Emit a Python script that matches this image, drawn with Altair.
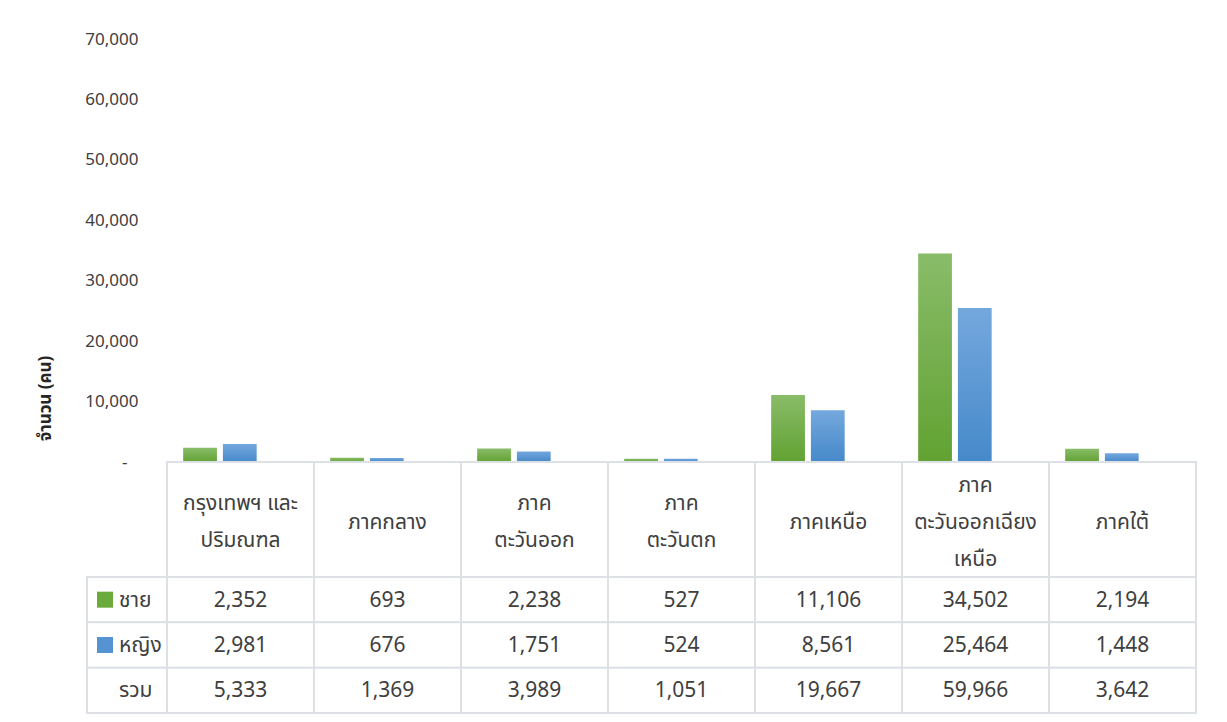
import altair as alt
import pandas as pd

# ---------------- data ----------------
regions = ["กรุงเทพฯ และปริมณฑล", "ภาคกลาง", "ภาคตะวันออก", "ภาคตะวันตก",
           "ภาคเหนือ", "ภาคตะวันออกเฉียงเหนือ", "ภาคใต้"]
header_labels = ["กรุงเทพฯ และ\nปริมณฑล", "ภาคกลาง", "ภาค\nตะวันออก", "ภาค\nตะวันตก",
                 "ภาคเหนือ", "ภาค\nตะวันออกเฉียง\nเหนือ", "ภาคใต้"]
male = [2352, 693, 2238, 527, 11106, 34502, 2194]
female = [2981, 676, 1751, 524, 8561, 25464, 1448]
total = [5333, 1369, 3989, 1051, 19667, 59966, 3642]
series = ["ชาย", "หญิง"]
row_names = ["ชาย", "หญิง", "รวม"]
y_ticks = [0, 10000, 20000, 30000, 40000, 50000, 60000, 70000]
y_title = "จำนวน (คน)"

# ---------------- styles ----------------
FONT = "Noto Sans Thai, Leelawadee UI, Tahoma, Noto Sans, sans-serif"
TEXT = "#404040"
GRID = "#dde1e6"
GREEN = "#6aab3c"
BLUE = "#5693d3"

bars_df = pd.DataFrame({
    "region": regions * 2,
    "sex": [series[0]] * len(regions) + [series[1]] * len(regions),
    "value": male + female,
})
table_df = pd.DataFrame({
    "region": regions * 3,
    "row": [r for r in row_names for _ in regions],
    "value": male + female + total,
})
header_df = pd.DataFrame({"region": regions, "label": header_labels})
rows_df = pd.DataFrame({"row": row_names})

W = 1029
H_BARS = 423
H_HEAD = 115
H_ROWS = 136
W_LEFT = 80
LINE_H = 37
FS_TAB = 21

# ---------------- bars ----------------
x_bars = alt.X("region:N", axis=None,
               scale=alt.Scale(domain=regions, paddingInner=0.5, paddingOuter=0.25, align=0.22))
x_off = alt.XOffset("sex:N", scale=alt.Scale(domain=series, paddingInner=0.15, paddingOuter=0))
y_bars = alt.Y("value:Q",
               scale=alt.Scale(domain=[0, 70000], nice=False),
               axis=alt.Axis(values=y_ticks,
                             labelExpr="datum.value == 0 ? '-' : format(datum.value, ',')",
                             grid=False, domain=False, ticks=False, tickSize=0,
                             labelPadding={"condition": {"test": "datum.value === 0", "value": 40},
                                           "value": 29},
                             labelFontSize=17, labelColor=TEXT, labelFont=FONT,
                             title=y_title, titleFont=FONT, titleFontSize=17, titleFontWeight="bold",
                             titleColor="#262626", titleX=-122, titleY=359, titleAngle=270,
                             titleAlign="center", titleBaseline="middle"))

green_grad = alt.LinearGradient(gradient="linear",
                                stops=[alt.GradientStop(offset=0, color="#89bc69"),
                                       alt.GradientStop(offset=1, color="#62a232")],
                                x1=0, x2=0, y1=0, y2=1)
blue_grad = alt.LinearGradient(gradient="linear",
                               stops=[alt.GradientStop(offset=0, color="#74a8dd"),
                                      alt.GradientStop(offset=1, color="#4689ca")],
                               x1=0, x2=0, y1=0, y2=1)

bars_m = alt.Chart(bars_df).transform_filter(alt.datum.sex == series[0]).mark_bar(
    color=green_grad).encode(x=x_bars, xOffset=x_off, y=y_bars)
bars_f = alt.Chart(bars_df).transform_filter(alt.datum.sex == series[1]).mark_bar(
    color=blue_grad).encode(x=x_bars, xOffset=x_off, y=y_bars)
bars = alt.layer(bars_m, bars_f).properties(width=W, height=H_BARS)

# ---------------- table header ----------------
x_tab = alt.X("region:N", axis=None,
              scale=alt.Scale(domain=regions, paddingInner=0, paddingOuter=0))
head_rect = alt.Chart(header_df).mark_rect(fill="white", stroke=GRID, strokeWidth=2).encode(x=x_tab)


def head_text(n_lines):
    return alt.Chart(header_df).transform_calculate(
        n="split(datum.label, '\\n').length"
    ).transform_filter(alt.datum.n == n_lines).mark_text(
        font=FONT, fontSize=FS_TAB, color=TEXT, lineBreak="\n", lineHeight=LINE_H,
        baseline="middle", dy=3 - (n_lines - 1) * LINE_H / 2
    ).encode(x=x_tab, text="label:N")


header = alt.layer(head_rect, head_text(1), head_text(2), head_text(3)).properties(
    width=W, height=H_HEAD)

# ---------------- table rows ----------------
y_tab = alt.Y("row:N", axis=None,
              scale=alt.Scale(domain=row_names, paddingInner=0, paddingOuter=0))
cell_rect = alt.Chart(table_df).mark_rect(fill="white", stroke=GRID, strokeWidth=2).encode(x=x_tab, y=y_tab)
cell_text = alt.Chart(table_df).mark_text(font=FONT, fontSize=FS_TAB, color=TEXT, baseline="middle",
                                          dy=1).encode(
    x=x_tab, y=y_tab, text=alt.Text("value:Q", format=","))
rows = alt.layer(cell_rect, cell_text).properties(width=W, height=H_ROWS)

# ---------------- row labels ----------------
lab_rect = alt.Chart(rows_df).mark_rect(fill="white", stroke=GRID, strokeWidth=2).encode(y=y_tab)
lab_text = alt.Chart(rows_df).mark_text(font=FONT, fontSize=FS_TAB, color=TEXT, align="left",
                                        baseline="middle", dy=1).encode(
    x=alt.value(32), y=y_tab, text="row:N")
lab_sq = alt.Chart(rows_df).transform_filter(
    alt.FieldOneOfPredicate(field="row", oneOf=series)).mark_square(size=256, opacity=1).encode(
    x=alt.value(18), y=y_tab,
    color=alt.Color("row:N", scale=alt.Scale(domain=series, range=[GREEN, BLUE]), legend=None))
labels = alt.layer(lab_rect, lab_sq, lab_text).properties(width=W_LEFT, height=H_ROWS)


def spacer(h):
    return alt.Chart(rows_df).mark_text(opacity=0).encode(text=alt.value("")).properties(
        width=W_LEFT, height=h)


chart = alt.concat(spacer(H_BARS), bars, spacer(H_HEAD), header, labels, rows,
                   columns=2, spacing=0, bounds="flush").properties(
    padding={"left": 28, "top": 22, "right": 10, "bottom": 5},
    background="white",
).configure_view(strokeWidth=0)

chart.save("out.html", embed_options={"renderer": "svg", "actions": False})
